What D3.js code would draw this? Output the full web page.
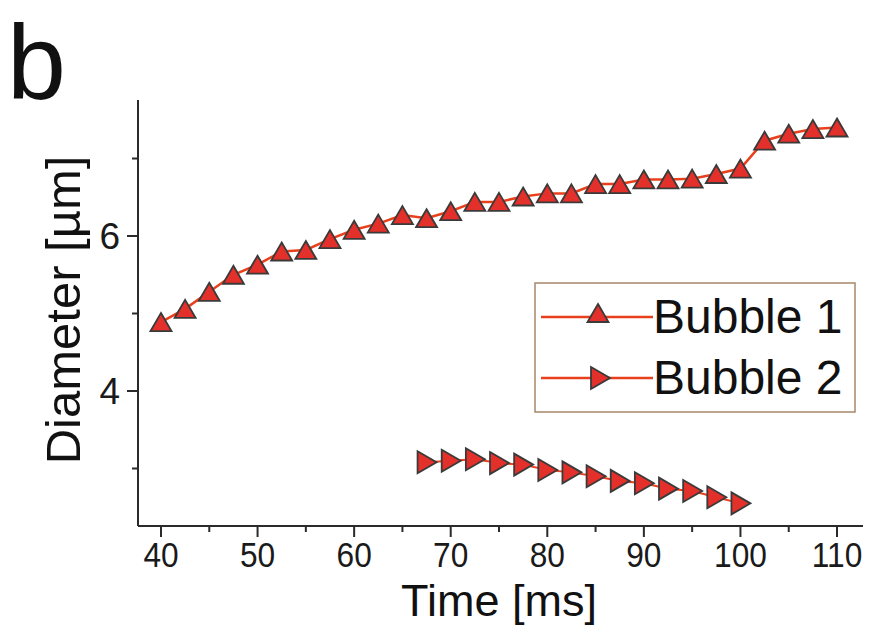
<!DOCTYPE html>
<html>
<head>
<meta charset="utf-8">
<script src="https://cdn.jsdelivr.net/npm/d3@7"></script>
<style>
  body { margin: 0; background: #fff; }
  svg { display: block; font-family: "Liberation Sans", Arial, sans-serif; }
</style>
</head>
<body>
<svg id="chart" width="871" height="626"></svg>
<script>
// time values (ms) and diameters (µm)
const time1 = [40, 42.5, 45, 47.5, 50, 52.5, 55, 57.5, 60, 62.5, 65, 67.5, 70, 72.5, 75,
  77.5, 80, 82.5, 85, 87.5, 90, 92.5, 95, 97.5, 100, 102.5, 105, 107.5, 110];
const diam1 = [4.89, 5.06, 5.28, 5.50, 5.63, 5.80, 5.82, 5.96, 6.08, 6.16, 6.27, 6.23, 6.32, 6.44, 6.44,
  6.51, 6.55, 6.55, 6.67, 6.67, 6.73, 6.73, 6.74, 6.80, 6.87, 7.23, 7.32, 7.38, 7.40];
const time2 = [67.5, 70, 72.5, 75, 77.5, 80, 82.5, 85, 87.5, 90, 92.5, 95, 97.5, 100];
const diam2 = [3.08, 3.10, 3.12, 3.07, 3.05, 2.98, 2.95, 2.90, 2.84, 2.81, 2.74, 2.71, 2.63, 2.55];
const seriesNames = ["Bubble 1", "Bubble 2"];
const xMajor = [40, 50, 60, 70, 80, 90, 100, 110];
const xMinor = [45, 55, 65, 75, 85, 95, 105];
const yMajor = [4, 6];
const yMinor = [3, 5, 7];

const svg = d3.select("#chart");
const lineColor = "#e8401c";
const markFill = "#e3302a";
const markStroke = "#3a3a3a";
const axisColor = "#2a2a2a";

const x = d3.scaleLinear().domain([37.62, 112.69]).range([138, 863]);
const y = d3.scaleLinear().domain([2.258, 7.755]).range([526, 100]);

// marker shapes: bbox-centred triangles
function upTri(cx, cy) {
  return `M${cx},${cy - 9}L${cx + 10.5},${cy + 9}L${cx - 10.5},${cy + 9}Z`;
}
function rightTri(cx, cy) {
  return `M${cx - 9},${cy - 11}L${cx + 10},${cy}L${cx - 9},${cy + 11}Z`;
}

// axes
const xAxis = svg.append("g").attr("transform", "translate(0,526)");
xAxis.append("line").attr("x1", 138).attr("x2", 863).attr("stroke", axisColor).attr("stroke-width", 2);
xAxis.selectAll(".maj").data(xMajor).join("line")
  .attr("x1", d => x(d)).attr("x2", d => x(d)).attr("y1", 0).attr("y2", 11)
  .attr("stroke", axisColor).attr("stroke-width", 2);
xAxis.selectAll(".min").data(xMinor).join("line")
  .attr("x1", d => x(d)).attr("x2", d => x(d)).attr("y1", 0).attr("y2", 6)
  .attr("stroke", axisColor).attr("stroke-width", 2);
xAxis.selectAll("text").data(xMajor).join("text")
  .attr("transform", d => `translate(${x(d)},41) scale(0.88,1)`)
  .attr("text-anchor", "middle")
  .attr("font-size", 36)
  .attr("fill", "#1a1a1a")
  .text(d => d);

const yAxis = svg.append("g").attr("transform", "translate(138,0)");
yAxis.append("line").attr("y1", 100).attr("y2", 526).attr("stroke", axisColor).attr("stroke-width", 2);
yAxis.selectAll(".maj").data(yMajor).join("line")
  .attr("y1", d => y(d)).attr("y2", d => y(d)).attr("x1", 0).attr("x2", -11)
  .attr("stroke", axisColor).attr("stroke-width", 2);
yAxis.selectAll(".min").data(yMinor).join("line")
  .attr("y1", d => y(d)).attr("y2", d => y(d)).attr("x1", 0).attr("x2", -6)
  .attr("stroke", axisColor).attr("stroke-width", 2);
yAxis.selectAll("text").data(yMajor).join("text")
  .attr("x", -18).attr("y", d => y(d) + 13)
  .attr("text-anchor", "end")
  .attr("font-size", 37)
  .attr("fill", "#1a1a1a")
  .text(d => d);

// axis titles
svg.append("text")
  .attr("x", 499).attr("y", 616)
  .attr("text-anchor", "middle")
  .attr("font-size", 45)
  .attr("fill", "#111")
  .text("Time [ms]");

svg.append("text")
  .attr("transform", "translate(80,310) rotate(-90)")
  .attr("text-anchor", "middle")
  .attr("font-size", 49)
  .attr("fill", "#111")
  .text("Diameter [µm]");

svg.append("text")
  .attr("x", 7).attr("y", 99)
  .attr("font-size", 106)
  .attr("fill", "#111")
  .text("b");

// series
const s1 = time1.map((t, i) => [t, diam1[i]]);
const s2 = time2.map((t, i) => [t, diam2[i]]);
const line = d3.line().x(d => x(d[0])).y(d => y(d[1]));

svg.append("path").datum(s1).attr("d", line)
  .attr("fill", "none").attr("stroke", lineColor).attr("stroke-width", 2.5);
svg.append("path").datum(s2).attr("d", line)
  .attr("fill", "none").attr("stroke", lineColor).attr("stroke-width", 2);

svg.append("g").selectAll("path").data(s1).join("path")
  .attr("d", d => upTri(x(d[0]), y(d[1])))
  .attr("fill", markFill).attr("stroke", markStroke).attr("stroke-width", 1.8);
svg.append("g").selectAll("path").data(s2).join("path")
  .attr("d", d => rightTri(x(d[0]), y(d[1])))
  .attr("fill", markFill).attr("stroke", markStroke).attr("stroke-width", 1.8);

// legend
const legend = svg.append("g");
legend.append("rect")
  .attr("x", 535).attr("y", 283).attr("width", 320).attr("height", 129)
  .attr("fill", "#fff").attr("stroke", "#a8876a").attr("stroke-width", 1.5);
const rowsY = [317, 378];
seriesNames.forEach((name, i) => {
  const ry = rowsY[i];
  legend.append("line").attr("x1", 541).attr("x2", 653).attr("y1", ry).attr("y2", ry)
    .attr("stroke", lineColor).attr("stroke-width", 2.5);
  legend.append("path")
    .attr("d", i === 0 ? upTri(598, ry - 4) : rightTri(600, ry))
    .attr("fill", markFill).attr("stroke", markStroke).attr("stroke-width", 1.8);
  legend.append("text")
    .attr("x", 653).attr("y", ry + 16)
    .attr("font-size", 48)
    .attr("fill", "#111")
    .text(name);
});
</script>
</body>
</html>
